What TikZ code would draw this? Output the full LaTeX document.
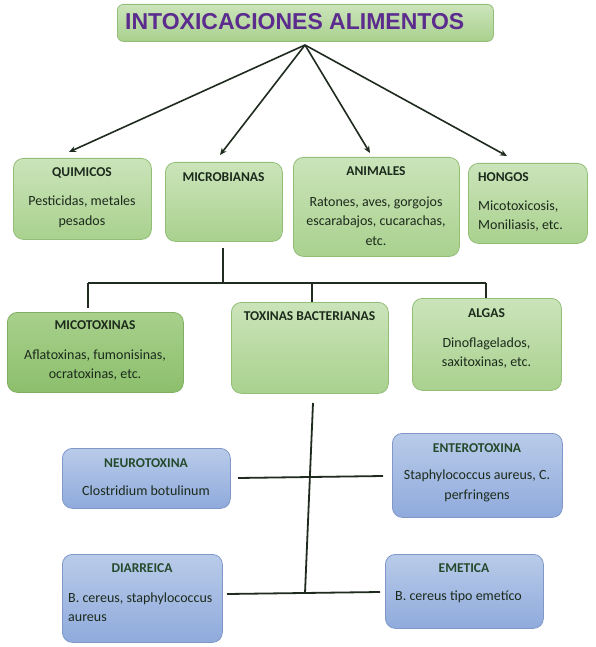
\documentclass[tikz,border=0pt]{standalone}
\usepackage{fontspec}
\setmainfont{Carlito}
\newfontfamily\titlefont{Liberation Sans Bold}
\usetikzlibrary{arrows.meta}
\definecolor{gtop}{HTML}{CBE4BA}
\definecolor{gbot}{HTML}{A9D18E}
\definecolor{gline}{HTML}{93BE78}
\definecolor{dgtop}{HTML}{A8D08C}
\definecolor{dgbot}{HTML}{8CBF6C}
\definecolor{dgline}{HTML}{7FAF62}
\definecolor{btop}{HTML}{B9CBE9}
\definecolor{bbot}{HTML}{8FAADC}
\definecolor{bline}{HTML}{7F98C8}
\definecolor{ttlpurple}{HTML}{5B2C8E}
\definecolor{inktext}{HTML}{1C2A1C}
\definecolor{bluetitle}{HTML}{244A2C}
\definecolor{conn}{HTML}{1F2B1F}
\tikzset{
  gbox/.style={draw=gline, line width=0.8pt, rounded corners=10pt, top color=gtop, bottom color=gbot, anchor=north west, inner sep=0pt},
  dgbox/.style={gbox, draw=dgline, top color=dgtop, bottom color=dgbot},
  bbox/.style={gbox, draw=bline, top color=btop, bottom color=bbot},
  boxtitle/.style={font=\bfseries\fontsize{13.5}{16}\selectfont, text=inktext, inner sep=0pt},
  bluettl/.style={boxtitle, text=bluetitle},
  boxtext/.style={font=\fontsize{14}{19.5}\selectfont, text=inktext, inner sep=0pt, align=center},
  boxtextl/.style={boxtext, align=left, anchor=west},
  arr/.style={draw=conn, line width=1.6pt, -{Stealth[length=7pt,width=6pt]}},
  tree/.style={draw=conn, line width=1.8pt},
}
\begin{document}
\begin{tikzpicture}[x=1pt,y=-1pt]
\useasboundingbox (0,0) rectangle (595,647);
\fill[white] (0,0) rectangle (595,647);

% title
\node[gbox, minimum width=376pt, minimum height=37pt, rounded corners=6pt] (main) at (117,4) {};
\node[font=\titlefont\fontsize{23}{27}\selectfont, text=ttlpurple, anchor=west, inner sep=0pt] (maint) at (125,22) {INTOXICACIONES ALIMENTOS};

% first level
\node[gbox, minimum width=138pt, minimum height=81pt] (quim) at (13,158) {};
\node[boxtitle] (quimt) at (82,173) {QUIMICOS};
\node[boxtext] (quimx) at (82,212) {Pesticidas, metales\\pesados};

\node[gbox, minimum width=117pt, minimum height=79pt] (micro) at (165,162) {};
\node[boxtitle] (microt) at (223.5,177) {MICROBIANAS};

\node[gbox, minimum width=166pt, minimum height=99pt] (anim) at (293,157) {};
\node[boxtitle] (animt) at (376,171) {ANIMALES};
\node[boxtext] (animx) at (376,221) {Ratones, aves, gorgojos\\escarabajos, cucarachas,\\etc.};

\node[gbox, minimum width=119pt, minimum height=80pt] (hong) at (468,163) {};
\node[boxtitle, anchor=west] (hongt) at (478,177) {HONGOS};
\node[boxtextl] (hongx) at (478,216) {Micotoxicosis,\\Moniliasis, etc.};

% second level
\node[dgbox, minimum width=176pt, minimum height=80pt] (micot) at (7,312) {};
\node[boxtitle] (micott) at (95,325) {MICOTOXINAS};
\node[boxtext] (micotx) at (95,365) {Aflatoxinas, fumonisinas,\\ocratoxinas, etc.};

\node[gbox, minimum width=157pt, minimum height=91pt] (toxb) at (231,302) {};
\node[boxtitle] (toxbt) at (309.5,316) {TOXINAS BACTERIANAS};

\node[gbox, minimum width=149pt, minimum height=92pt] (alg) at (412,298) {};
\node[boxtitle] (algt) at (486.5,313) {ALGAS};
\node[boxtext] (algx) at (486.5,353) {Dinoflagelados,\\saxitoxinas, etc.};

% third level (blue)
\node[bbox, minimum width=168pt, minimum height=60pt] (neuro) at (62,448) {};
\node[bluettl] (neurot) at (146,463) {NEUROTOXINA};
\node[boxtext] (neurox) at (146,491) {Clostridium botulinum};

\node[bbox, minimum width=170pt, minimum height=84pt] (ent) at (392,433) {};
\node[bluettl] (entt) at (477,448) {ENTEROTOXINA};
\node[boxtext] (entx) at (477,486) {Staphylococcus aureus, C.\\perfringens};

\node[bbox, minimum width=160pt, minimum height=88pt] (diar) at (62,554) {};
\node[bluettl] (diart) at (142,568) {DIARREICA};
\node[boxtextl] (diarx) at (68,607) {B. cereus, staphylococcus\\aureus};

\node[bbox, minimum width=158pt, minimum height=74pt] (em) at (385,554) {};
\node[bluettl] (emt) at (464,568) {EMETICA};
\node[boxtextl] (emx) at (395,597) {B. cereus tipo emetíco};

% arrows from title
\coordinate (src) at (305,45);
\coordinate (aq) at (69,152);
\coordinate (am) at (220,155);
\coordinate (aa) at (370,153);
\coordinate (ah) at (507,156);
\draw[arr] (src) -- (aq);
\draw[arr] (src) -- (am);
\draw[arr] (src) -- (aa);
\draw[arr] (src) -- (ah);

% tree under MICROBIANAS
\coordinate (j1) at (223,283);
\coordinate (jL) at (88,283);
\coordinate (jM) at (312,283);
\coordinate (jR) at (486,283);
\draw[tree, shorten <=6pt] (micro.south -| j1) -- (j1);
\draw[tree] (jL) -- (jR);
\draw[tree, shorten >=4pt] (jL) -- (jL |- micot.north);
\draw[tree] (jM) -- (jM |- toxb.north);
\draw[tree] (jR) -- (jR |- alg.north);

% tree under TOXINAS BACTERIANAS
\coordinate (t1) at (313,403);
\coordinate (t2) at (305,593);
\coordinate (nL) at (238,478);
\coordinate (nR) at (383,476);
\coordinate (dL) at (227,594);
\coordinate (dR) at (380,592);
\draw[tree] (t1) -- (t2);
\draw[tree] (nL) -- (nR);
\draw[tree] (dL) -- (dR);
\end{tikzpicture}
\end{document}
